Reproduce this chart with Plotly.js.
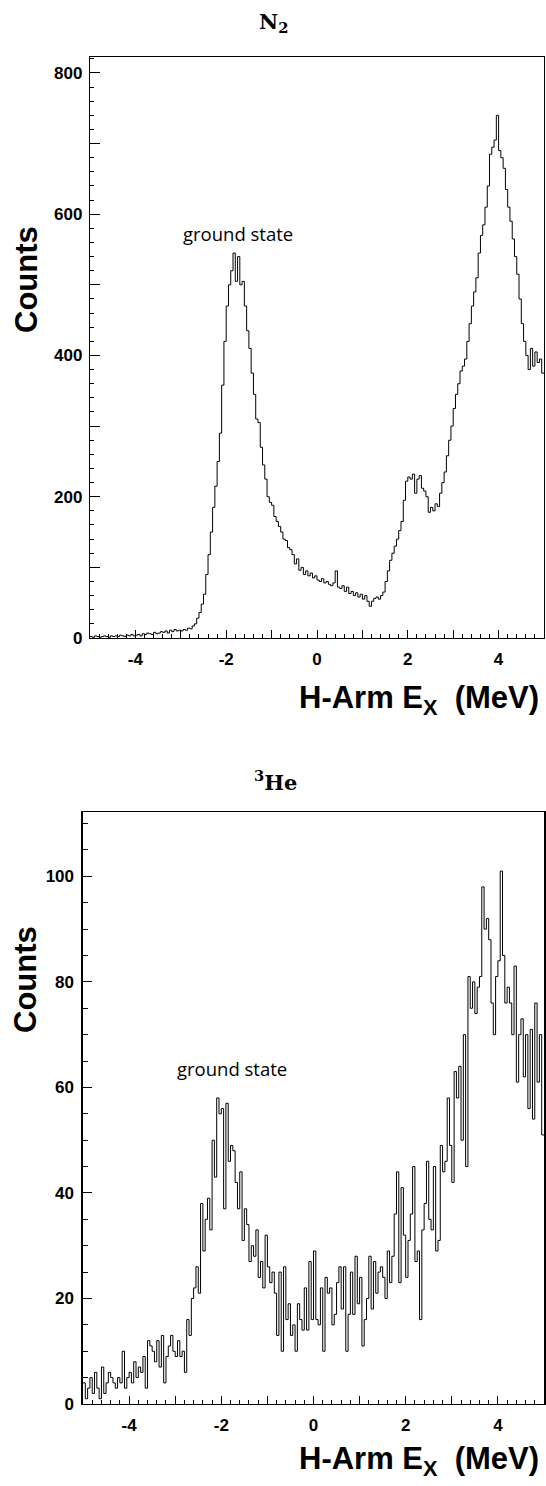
<!DOCTYPE html>
<html>
<head>
<meta charset="utf-8">
<script src="https://cdn.plot.ly/plotly-3.0.1.min.js"></script>
<style>
  html, body { margin: 0; padding: 0; background: #fff; }
  #chart { width: 546px; height: 1486px; }
</style>
</head>
<body>
<div id="chart"></div>
<script>
// ---------------- data ----------------
// Histogram binning (H-Arm Ex in MeV): 200 bins of 0.05 MeV from -5 to 5
const binStart = -5;
const binWidth = 0.05;

// N2 target counts per bin
const countsN2 = [
  2, 1, 3, 2, 1, 2, 3, 2, 1, 3,
  2, 3, 2, 4, 3, 2, 4, 3, 5, 3,
  4, 5, 3, 6, 5, 7, 6, 5, 8, 6,
  7, 9, 8, 10, 7, 11, 9, 12, 10, 11,
  10, 12, 11, 14, 13, 17, 20, 28, 36, 48,
  62, 90, 118, 150, 185, 215, 250, 290, 358, 420,
  470, 500, 520, 545, 505, 540, 500, 505, 470, 435,
  410, 375, 345, 310, 305, 270, 245, 225, 200, 192,
  188, 172, 165, 158, 150, 140, 138, 128, 125, 118,
  105, 112, 96, 100, 90, 95, 88, 92, 85, 88,
  82, 80, 84, 78, 80, 76, 74, 78, 95, 72,
  70, 74, 66, 72, 63, 66, 60, 64, 58, 62,
  55, 60, 52, 45, 52, 56, 58, 55, 60, 65,
  80, 95, 110, 120, 130, 140, 152, 165, 195, 222,
  228, 225, 232, 205, 225, 230, 212, 208, 200, 178,
  185, 180, 190, 186, 205, 220, 235, 258, 280, 300,
  325, 345, 360, 378, 385, 395, 420, 445, 470, 490,
  510, 545, 570, 585, 610, 640, 685, 695, 705, 740,
  690, 680, 665, 635, 610, 590, 565, 540, 515, 480,
  445, 420, 400, 380, 410, 385, 405, 390, 395, 375
];

// 3He target counts per bin
const countsHe3 = [
  4, 1, 3, 5, 2, 6, 3, 1, 7, 2,
  4, 6, 5, 4, 3, 5, 4, 10, 3, 5,
  6, 4, 8, 5, 7, 6, 9, 3, 12, 11,
  10, 8, 12, 7, 13, 4, 9, 11, 13, 10,
  9, 12, 9, 10, 6, 16, 13, 20, 22, 26,
  21, 38, 29, 35, 39, 33, 50, 43, 58, 55,
  56, 37, 57, 46, 49, 48, 42, 37, 44, 31,
  37, 34, 27, 30, 28, 33, 24, 27, 22, 32,
  26, 23, 25, 21, 13, 25, 10, 26, 16, 19,
  13, 15, 10, 19, 16, 14, 22, 14, 27, 16,
  29, 16, 15, 22, 10, 24, 21, 22, 15, 17,
  23, 26, 18, 26, 10, 17, 25, 17, 28, 19,
  24, 11, 16, 20, 28, 18, 27, 21, 25, 26,
  24, 20, 29, 23, 28, 36, 44, 23, 41, 32,
  24, 31, 36, 45, 27, 29, 16, 33, 38, 46,
  35, 33, 45, 29, 31, 49, 44, 46, 58, 49,
  42, 63, 58, 64, 50, 70, 45, 81, 75, 80,
  74, 79, 81, 98, 90, 92, 88, 76, 70, 81,
  84, 101, 85, 76, 79, 76, 70, 83, 61, 70,
  73, 62, 70, 56, 71, 54, 76, 61, 70, 51
];

// Axis tick labels
const xTickVals = [-5, -4, -3, -2, -1, 0, 1, 2, 3, 4, 5];
const xTickText = ['', '-4', '', '-2', '', '0', '', '2', '', '4', ''];
const yTickValsN2 = [0, 100, 200, 300, 400, 500, 600, 700, 800];
const yTickTextN2 = ['0', '', '200', '', '400', '', '600', '', '800'];

const titleN2 = 'N<sub>2</sub>';
const titleHe3 = '<sup>3</sup>He';
const xTitle = 'H-Arm E<sub>X</sub>\u00a0\u00a0(MeV)';
const yTitle = 'Counts';
const peakLabel = 'ground state';

// ---------------- build ----------------
const W = 546, H = 1486;
const px = v => v / W;
const py = v => 1 - v / H;

function stepXY(counts) {
  const xs = [], ys = [];
  for (let i = 0; i < counts.length; i++) {
    xs.push(binStart + i * binWidth);
    ys.push(counts[i]);
  }
  xs.push(binStart + counts.length * binWidth);
  ys.push(counts[counts.length - 1]);
  return { xs, ys };
}

const n2 = stepXY(countsN2);
const he = stepXY(countsHe3);

const traces = [
  { x: n2.xs, y: n2.ys, xaxis: 'x', yaxis: 'y', type: 'scatter', mode: 'lines',
    line: { shape: 'hv', color: '#000', width: 1 }, hoverinfo: 'skip' },
  { x: he.xs, y: he.ys, xaxis: 'x2', yaxis: 'y2', type: 'scatter', mode: 'lines',
    line: { shape: 'hv', color: '#000', width: 1 }, hoverinfo: 'skip' }
];

const tickFont = { family: 'Liberation Sans, Arial, sans-serif', size: 17, color: '#000', weight: 'bold' };

function xAx(domain, anchor) {
  return {
    domain: domain, anchor: anchor, range: [-5, 5], autorange: false,
    showline: true, mirror: true, linecolor: '#000', linewidth: 1.2,
    showgrid: false, zeroline: false,
    ticks: 'inside', tickmode: 'array', tickvals: xTickVals, ticktext: xTickText,
    ticklen: 8, tickwidth: 1, tickcolor: '#000',
    minor: { tickmode: 'linear', tick0: -5, dtick: 0.2, ticks: 'inside', ticklen: 4, tickwidth: 1, tickcolor: '#000', showgrid: false },
    tickfont: tickFont, ticklabelstandoff: 5
  };
}

const layout = {
  width: W, height: H,
  margin: { l: 0, r: 0, t: 0, b: 0 },
  paper_bgcolor: '#fff', plot_bgcolor: '#fff',
  showlegend: false,
  xaxis: xAx([px(90), px(544)], 'y'),
  yaxis: {
    domain: [py(638), py(57)], anchor: 'x', range: [0, 822.6], autorange: false,
    showline: true, mirror: true, linecolor: '#000', linewidth: 1.2,
    showgrid: false, zeroline: false,
    ticks: 'inside', tickmode: 'array', tickvals: yTickValsN2, ticktext: yTickTextN2,
    ticklen: 10, tickwidth: 1, tickcolor: '#000',
    minor: { tickmode: 'linear', tick0: 0, dtick: 20, ticks: 'inside', ticklen: 4, tickwidth: 1, tickcolor: '#000', showgrid: false },
    tickfont: tickFont, ticklabelstandoff: 3
  },
  xaxis2: xAx([px(83), px(544)], 'y2'),
  yaxis2: {
    domain: [py(1404), py(812)], anchor: 'x2', range: [0, 112.2], autorange: false,
    showline: true, mirror: true, linecolor: '#000', linewidth: 1.6,
    showgrid: false, zeroline: false,
    ticks: 'inside', tickmode: 'linear', tick0: 0, dtick: 20,
    ticklen: 9, tickwidth: 1, tickcolor: '#000',
    minor: { tickmode: 'linear', tick0: 0, dtick: 5, ticks: 'inside', ticklen: 4.5, tickwidth: 1, tickcolor: '#000', showgrid: false },
    tickfont: tickFont, ticklabelstandoff: 4
  },
  annotations: [
    { text: titleN2, xref: 'paper', yref: 'paper', x: px(273), y: py(23), xanchor: 'center', yanchor: 'middle',
      showarrow: false, font: { family: 'DejaVu Serif, serif', size: 21, color: '#000', weight: 'bold' } },
    { text: titleHe3, xref: 'paper', yref: 'paper', x: px(275), y: py(781), xanchor: 'center', yanchor: 'middle',
      showarrow: false, font: { family: 'DejaVu Serif, serif', size: 21, color: '#000', weight: 'bold' } },
    { text: peakLabel, xref: 'paper', yref: 'paper', x: px(238), y: py(234), xanchor: 'center', yanchor: 'middle',
      showarrow: false, font: { family: 'Open Sans, sans-serif', size: 18.5, color: '#000' } },
    { text: peakLabel, xref: 'paper', yref: 'paper', x: px(232), y: py(1068), xanchor: 'center', yanchor: 'middle',
      showarrow: false, font: { family: 'Open Sans, sans-serif', size: 18.5, color: '#000' } },
    { text: yTitle, xref: 'paper', yref: 'paper', x: px(26), y: py(280), xanchor: 'center', yanchor: 'middle', textangle: -90,
      showarrow: false, font: { family: 'Liberation Sans, Arial, sans-serif', size: 31, color: '#000', weight: 'bold' } },
    { text: yTitle, xref: 'paper', yref: 'paper', x: px(26), y: py(980), xanchor: 'center', yanchor: 'middle', textangle: -90,
      showarrow: false, font: { family: 'Liberation Sans, Arial, sans-serif', size: 31, color: '#000', weight: 'bold' } },
    { text: xTitle, xref: 'paper', yref: 'paper', x: px(541), y: py(700), xanchor: 'right', yanchor: 'middle',
      showarrow: false, font: { family: 'Liberation Sans, Arial, sans-serif', size: 31, color: '#000', weight: 'bold' } },
    { text: xTitle, xref: 'paper', yref: 'paper', x: px(541), y: py(1461), xanchor: 'right', yanchor: 'middle',
      showarrow: false, font: { family: 'Liberation Sans, Arial, sans-serif', size: 31, color: '#000', weight: 'bold' } }
  ]
};

Plotly.newPlot('chart', traces, layout, { displayModeBar: false, staticPlot: true });
</script>
</body>
</html>
